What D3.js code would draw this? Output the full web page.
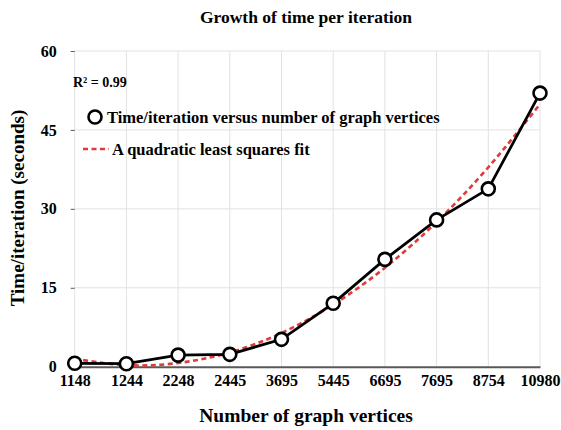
<!DOCTYPE html>
<html>
<head>
<meta charset="utf-8">
<script src="https://cdn.jsdelivr.net/npm/d3@7"></script>
<style>
  body { margin: 0; background: #fff; }
  text { font-family: "Liberation Serif", "Times New Roman", serif; font-weight: bold; fill: #000; }
</style>
</head>
<body>
<div id="chart"></div>
<script>
// Number of graph vertices (categories, evenly spaced)
const vertices = ['1148', '1244', '2248', '2445', '3695', '5445', '6695', '7695', '8754', '10980'];
// Measured time per iteration (seconds)
const timePerIter = [0.65, 0.57, 2.2, 2.35, 5.2, 12.05, 20.4, 27.9, 33.8, 52.0];
// Quadratic fit values
const fitValues = [1.5, 0.3, 0.7, 2.7, 6.4, 11.8, 18.8, 27.5, 37.9, 49.9];
const yTicks = [0, 15, 30, 45, 60];

const width = 561, height = 430;
const svg = d3.select('#chart').append('svg')
    .attr('width', width)
    .attr('height', height);

const x = d3.scalePoint()
    .domain(vertices)
    .range([74.7, 540]);

const y = d3.scaleLinear()
    .domain([0, 60])
    .range([366.7, 51]);

// Grid lines
svg.append('g')
    .selectAll('line')
    .data(vertices)
    .enter()
    .append('line')
    .attr('x1', d => x(d)).attr('x2', d => x(d))
    .attr('y1', y(60)).attr('y2', y(0))
    .attr('stroke', '#e2e2e2')
    .attr('stroke-width', 1);

svg.append('g')
    .selectAll('line')
    .data(yTicks.filter(d => d > 0))
    .enter()
    .append('line')
    .attr('x1', x.range()[0]).attr('x2', x.range()[1])
    .attr('y1', d => y(d)).attr('y2', d => y(d))
    .attr('stroke', '#e2e2e2')
    .attr('stroke-width', 1);

// Y axis ticks and labels
const yAxis = svg.append('g')
    .attr('transform', `translate(${x.range()[0]},0)`)
    .call(d3.axisLeft(y).tickValues(yTicks).tickSize(4).tickPadding(14));
yAxis.select('.domain').remove();
yAxis.selectAll('.tick line').attr('stroke', '#595959');
yAxis.selectAll('.tick text')
    .attr('font-size', '16px')
    .attr('font-family', null);

// X axis
const xAxis = svg.append('g')
    .attr('transform', `translate(0,${y(0)})`)
    .call(d3.axisBottom(x).tickSize(0).tickPadding(8));
xAxis.select('.domain').attr('stroke', '#595959').attr('stroke-width', 2);
xAxis.selectAll('.tick text')
    .attr('font-size', '16px')
    .attr('font-family', null);

// Fit line
const line = d3.line()
    .x((d, i) => x(vertices[i]))
    .y(d => y(d));

svg.append('path')
    .datum(fitValues)
    .attr('d', line.curve(d3.curveNatural))
    .attr('fill', 'none')
    .attr('stroke', '#e03a3a')
    .attr('stroke-width', 2.6)
    .attr('stroke-dasharray', '5,3.5');

// Data line
svg.append('path')
    .datum(timePerIter)
    .attr('d', line.curve(d3.curveLinear))
    .attr('fill', 'none')
    .attr('stroke', '#000')
    .attr('stroke-width', 2.8);

svg.append('g')
    .selectAll('circle')
    .data(timePerIter)
    .enter()
    .append('circle')
    .attr('cx', (d, i) => x(vertices[i]))
    .attr('cy', d => y(d))
    .attr('r', 6.5)
    .attr('fill', '#fff')
    .attr('stroke', '#000')
    .attr('stroke-width', 2.6);

// Title
svg.append('text')
    .attr('x', 306)
    .attr('y', 23)
    .attr('text-anchor', 'middle')
    .attr('font-size', '17.5px')
    .text('Growth of time per iteration');

// Axis titles
svg.append('text')
    .attr('x', 306)
    .attr('y', 422)
    .attr('text-anchor', 'middle')
    .attr('font-size', '19.5px')
    .text('Number of graph vertices');

svg.append('text')
    .attr('transform', 'translate(24,208) rotate(-90)')
    .attr('text-anchor', 'middle')
    .attr('font-size', '19px')
    .text('Time/iteration (seconds)');

// R squared
svg.append('text')
    .attr('x', 73)
    .attr('y', 87)
    .attr('font-size', '14px')
    .text('R² = 0.99');

// Legend
const legend = svg.append('g');
legend.append('circle')
    .attr('cx', 95).attr('cy', 117)
    .attr('r', 6.5)
    .attr('fill', '#fff')
    .attr('stroke', '#000')
    .attr('stroke-width', 2.6);
legend.append('text')
    .attr('x', 107).attr('y', 123)
    .attr('font-size', '16.5px')
    .text('Time/iteration versus number of graph vertices');
legend.append('line')
    .attr('x1', 83).attr('x2', 109)
    .attr('y1', 149).attr('y2', 149)
    .attr('stroke', '#e03a3a')
    .attr('stroke-width', 2.6)
    .attr('stroke-dasharray', '5,3.5');
legend.append('text')
    .attr('x', 112).attr('y', 155)
    .attr('font-size', '16.5px')
    .text('A quadratic least squares fit');
</script>
</body>
</html>
